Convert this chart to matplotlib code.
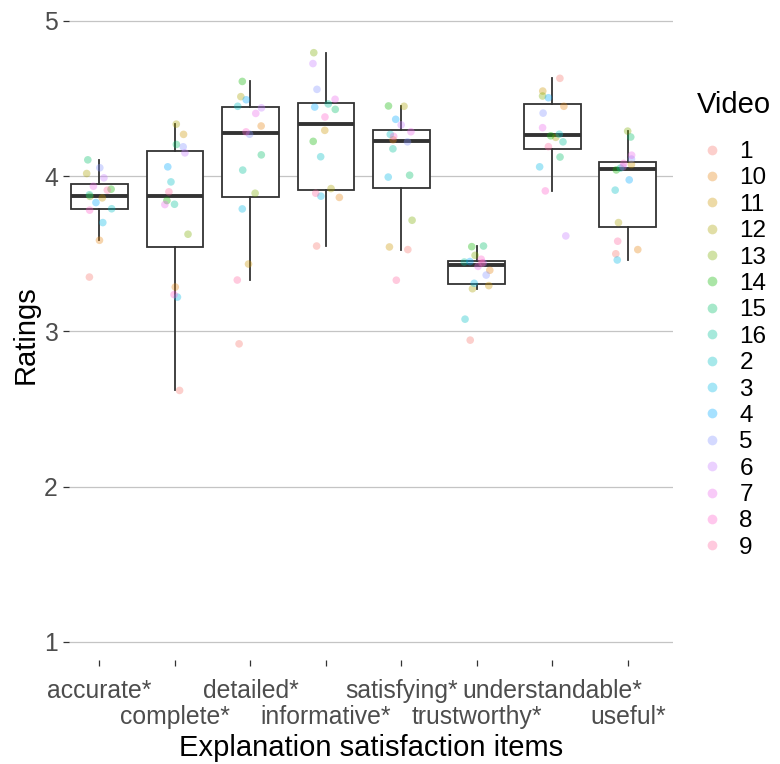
import numpy as np
import matplotlib
matplotlib.use("Agg")
import matplotlib.pyplot as plt
from matplotlib.lines import Line2D

plt.rcParams['font.family'] = ['Liberation Sans', 'DejaVu Sans']

# ---------------- data ----------------
items = ["accurate*", "complete*", "detailed*", "informative*",
         "satisfying*", "trustworthy*", "understandable*", "useful*"]
videos = ["1", "10", "11", "12", "13", "14", "15", "16",
          "2", "3", "4", "5", "6", "7", "8", "9"]
# ratings per item, ordered like `videos`
accurate = [3.35, 3.587, 3.86, 4.017, 3.87, 3.916, 4.105, 3.88,
            3.79, 3.701, 3.83, 4.054, 3.989, 3.935, 3.781, 3.91]
complete = [2.62, 3.286, 4.269, 4.335, 3.626, 3.843, 4.204, 3.819,
            3.963, 3.221, 4.06, 4.189, 4.15, 3.817, 3.237, 3.899]
detailed = [2.92, 4.323, 3.434, 4.512, 3.89, 4.61, 4.137, 4.039,
            4.45, 3.789, 4.492, 4.27, 4.44, 4.404, 4.285, 3.331]
informative = [3.55, 3.863, 4.295, 3.92, 4.795, 4.224, 4.43, 4.465,
               4.125, 3.871, 4.445, 4.559, 4.725, 4.495, 4.381, 3.89]
satisfying = [3.527, 4.234, 3.544, 4.45, 3.716, 4.452, 4.006, 4.176,
              4.269, 3.994, 4.366, 4.221, 4.33, 4.286, 4.256, 3.33]
trustworthy = [2.944, 3.394, 3.295, 3.275, 3.49, 3.546, 3.55, 3.447,
               3.079, 3.31, 3.45, 3.363, 3.441, 3.419, 3.465, 3.44]
understandable = [4.63, 4.45, 4.548, 4.25, 4.516, 4.26, 4.123, 4.221,
                  4.27, 4.06, 4.505, 4.406, 3.615, 4.312, 3.905, 4.19]
useful = [3.50, 3.527, 4.075, 3.701, 4.29, 4.04, 4.252, 4.052,
          3.91, 3.46, 3.976, 4.11, 4.06, 4.135, 4.082, 3.581]
ratings = [accurate, complete, detailed, informative,
           satisfying, trustworthy, understandable, useful]
y_ticks = [1, 2, 3, 4, 5]


# ---------------- ggplot-like hue palette ----------------
def hcl_to_rgb(h, c=100.0, l=65.0):
    hr = np.deg2rad(h)
    u, v = c * np.cos(hr), c * np.sin(hr)
    Xn, Yn, Zn = 95.047, 100.0, 108.883
    Y = Yn * ((l + 16) / 116) ** 3 if l > 8 else Yn * l / 903.3
    den = Xn + 15 * Yn + 3 * Zn
    un, vn = 4 * Xn / den, 9 * Yn / den
    up, vp = u / (13 * l) + un, v / (13 * l) + vn
    X = 9.0 * Y * up / (4 * vp)
    Z = -X / 3 - 5 * Y + 3 * Y / vp
    X, Y, Z = X / 100, Y / 100, Z / 100
    r = 3.240479 * X - 1.537150 * Y - 0.498535 * Z
    g = -0.969256 * X + 1.875992 * Y + 0.041556 * Z
    b = 0.055648 * X - 0.204043 * Y + 1.057311 * Z

    def gam(t):
        t = 12.92 * t if t <= 0.0031308 else 1.055 * t ** (1 / 2.4) - 0.055
        return min(max(t, 0.0), 1.0)
    return (gam(r), gam(g), gam(b))


n = len(videos)
colors = [hcl_to_rgb(15 + 360.0 / n * i) for i in range(n)]
ALPHA = 0.35

# ---------------- figure ----------------
W, H = 780, 764
fig = plt.figure(figsize=(W / 100, H / 100), dpi=100)
ax_l, ax_r, ax_t, ax_b = 69, 673, 10, 660
ax = fig.add_axes([ax_l / W, 1 - ax_b / H, (ax_r - ax_l) / W, (ax_b - ax_t) / H])

pos = np.arange(1, len(items) + 1)
ax.boxplot(ratings, positions=pos, widths=0.75, showfliers=False,
           patch_artist=True, showcaps=False,
           boxprops=dict(facecolor='white', edgecolor='#333333', linewidth=1.3),
           whiskerprops=dict(color='#333333', linewidth=1.3),
           medianprops=dict(color='#333333', linewidth=2.8),
           zorder=2)

rng = np.random.default_rng(11)
jit = rng.uniform(-0.18, 0.18, size=(len(items), n))
for j, vid in enumerate(videos):
    xs = pos + jit[:, j]
    ys = [ratings[i][j] for i in range(len(items))]
    ax.scatter(xs, ys, s=30, color=colors[j], alpha=ALPHA,
               edgecolors='none', zorder=3)

ax.set_xlim(0.596, 8.6)
ax.set_ylim(0.884, 5.07)
ax.set_yticks(y_ticks)
ax.set_yticklabels([str(t) for t in y_ticks])

# two-row (dodged) category labels: odd items as major ticks, even as minor
ax.set_xticks(pos[0::2])
ax.set_xticklabels(items[0::2])
ax.set_xticks(pos[1::2], minor=True)
ax.set_xticklabels(items[1::2], minor=True)

for s in ax.spines.values():
    s.set_visible(False)
ax.yaxis.grid(True, color='#C4C4C4', linewidth=0.9)
ax.xaxis.grid(False, which='both')
ax.set_axisbelow(True)
ax.tick_params(axis='both', which='both', length=4, width=0.9, color='#333333',
               labelcolor='#4D4D4D', labelsize=17.8)
ax.tick_params(axis='x', which='major', pad=10)
ax.tick_params(axis='x', which='minor', pad=28.5)
ax.tick_params(axis='y', pad=4)

ax.set_xlabel("Explanation satisfaction items", fontsize=21, color='black', labelpad=3.5)
ax.set_ylabel("Ratings", fontsize=21, color='black')
ax.yaxis.set_label_coords((40 - ax_l) / (ax_r - ax_l), 0.5)

# ---------------- legend ----------------
handles = [Line2D([], [], marker='o', linestyle='', markersize=7,
                  markerfacecolor=colors[j], markeredgecolor='none', alpha=ALPHA)
           for j in range(n)]
fs_leg = 17.5
fig.text(697 / W, 1 - 105 / H, "Video", fontsize=21, ha='left', va='center')
fig.legend(handles, videos, loc='upper left',
           bbox_to_anchor=(700 / W, 1 - 141 / H),
           frameon=False, fontsize=fs_leg, borderpad=0, borderaxespad=0,
           handlelength=1.0, handletextpad=0.62, labelspacing=0.18)

fig.savefig("out.png", dpi=100)
